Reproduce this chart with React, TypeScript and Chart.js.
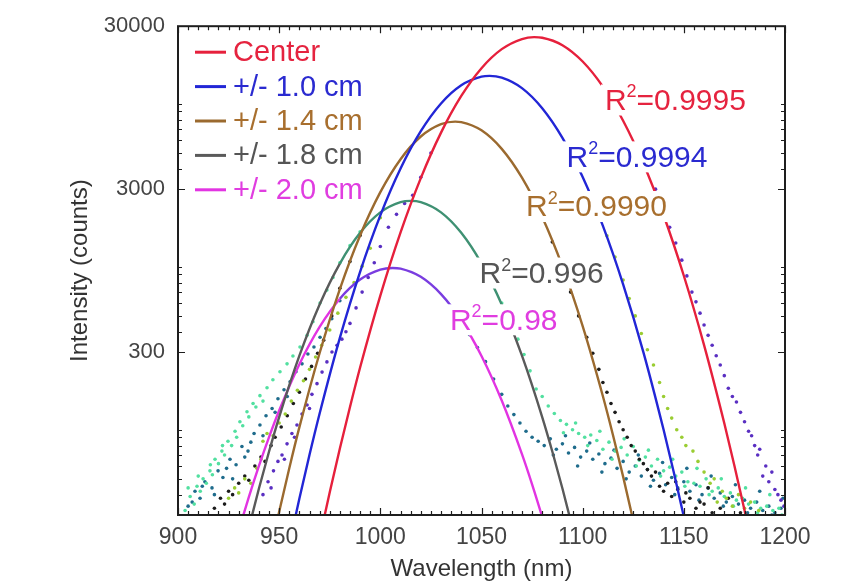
import { useEffect, useRef } from 'react';
import { Chart, registerables } from 'chart.js';

Chart.register(...registerables);

const FONT = '"Liberation Sans", Arial, Helvetica, sans-serif';

// ---------- axis / legend text ----------
const xTickValues = [900, 950, 1000, 1050, 1100, 1150, 1200];
const yTickValues = [300, 3000, 30000];
const yMinorTicks = [40, 50, 60, 70, 80, 90, 100, 400, 500, 600, 700, 800, 900, 1000, 4000, 5000, 6000, 7000, 8000, 9000, 10000];
const seriesLabels = ['Center', '+/- 1.0 cm', '+/- 1.4 cm', '+/- 1.8 cm', '+/- 2.0 cm'];
const r2Values = ['0.9995', '0.9994', '0.9990', '0.996', '0.98'];
const r2AnchorNm = [1111, 1092, 1072, 1049, 1034.4];
const r2AnchorCounts = [10500, 4700, 2330, 910, 470];

// ---------- Gaussian fit curves ----------
const fitCenterNm = [970, 975, 980, 985, 990, 1000, 1010, 1020, 1030, 1040, 1050, 1060, 1070, 1076, 1080, 1090, 1100, 1110, 1120, 1130, 1140, 1150, 1160, 1170, 1175, 1180, 1185];
const fitCenterCounts = [21.6, 41.4, 76.8, 138, 241, 666, 1627, 3504, 6665, 11190, 16580, 21690, 25030, 25700, 25500, 22940, 18210, 12760, 7889, 4306, 2075, 882, 331, 109.6, 60.2, 32.1, 16.5];

const fit10Nm = [955, 960, 965, 970, 980, 990, 1000, 1010, 1020, 1030, 1040, 1050, 1054, 1060, 1070, 1080, 1090, 1100, 1110, 1120, 1130, 1140, 1145, 1150, 1155];
const fit10Counts = [19.7, 37.9, 70.3, 126, 367, 933, 2071, 4016, 6803, 10070, 13020, 14700, 14870, 14500, 12500, 9410, 6189, 3556, 1785, 782, 300, 100, 55.1, 29.3, 15.1];

const fit14Nm = [945, 950, 955, 960, 970, 980, 990, 1000, 1010, 1020, 1030, 1037, 1040, 1050, 1060, 1070, 1080, 1090, 1100, 1110, 1115, 1120, 1125, 1130];
const fit14Counts = [16.4, 31.4, 58.1, 103.8, 296, 731, 1559, 2874, 4581, 6311, 7516, 7790, 7740, 6887, 5300, 3525, 2026, 1007, 433, 160.7, 92.7, 51.6, 27.7, 14.3];

const fit18Nm = [935, 940, 945, 950, 960, 970, 980, 990, 1000, 1010, 1015, 1020, 1030, 1040, 1050, 1060, 1070, 1080, 1085, 1090, 1095];
const fit18Counts = [24.9, 43.6, 73.6, 119.8, 285, 588, 1048, 1617, 2159, 2495, 2540, 2495, 2159, 1617, 1048, 588, 285, 119.8, 73.6, 43.6, 24.9];

const fit20Nm = [930, 935, 940, 945, 950, 960, 970, 980, 990, 1000, 1006, 1010, 1020, 1030, 1040, 1050, 1060, 1070, 1075, 1080, 1085];
const fit20Counts = [24.1, 38.6, 60, 90.2, 131.3, 252.9, 428.3, 637.9, 835.6, 962.5, 985, 975, 868.5, 680.2, 468.8, 284.1, 151.3, 70.9, 46.3, 29.2, 17.9];

// ---------- measured spectra (dots) ----------
const dataCenterNm = [942, 944.5, 946, 947.2, 949.4, 951.4, 952.6, 953.9, 956.3, 957.6, 958.8, 961.3, 963.8, 965, 966.2, 968.7, 971.2, 973.6, 976.1, 978.6, 981, 983, 985, 988, 991, 994, 997, 1000, 1004, 1008, 1012, 1016, 1020, 1025,
  1128, 1132, 1136, 1140, 1143, 1146, 1149, 1151.5, 1154, 1156, 1158, 1160, 1162, 1164, 1166, 1168, 1170, 1172, 1174, 1176, 1178, 1180, 1182, 1183.5, 1185, 1186.5, 1187.5, 1189, 1190.5, 1192, 1193.5, 1195, 1196.5, 1198, 1199.5];
const dataCenterCounts = [40, 48, 44, 56, 64, 70, 66, 82, 95, 90, 107, 125, 142, 135, 165, 192, 226, 261, 300, 330, 360, 400, 450, 560, 700, 860, 1060, 1335, 1750, 2100, 2450, 2750, 3550, 5000,
  4700, 3900, 3000, 2200, 1750, 1400, 1100, 880, 700, 610, 520, 440, 380, 330, 285, 250, 215, 180, 160, 148, 128, 112, 98, 92, 80, 70, 76, 52, 60, 48, 55, 43, 40, 37, 34];

const data10Nm = [925, 928, 930, 933, 936, 939, 941, 942, 944, 947, 950, 953, 956, 959, 962, 965, 968, 971, 975, 979, 983, 987, 991, 995, 1000,
  1108, 1112, 1116, 1120, 1123, 1126, 1129, 1132, 1135, 1138, 1140, 1142, 1144, 1146.5, 1149, 1151, 1154.5, 1157, 1160, 1163, 1165, 1166.5, 1169, 1171, 1174, 1177, 1180, 1183, 1187];
const data10Counts = [38, 44, 41, 50, 47, 58, 66, 85, 95, 92, 110, 125, 150, 175, 200, 235, 280, 330, 410, 520, 650, 800, 1010, 1300, 2000,
  2000, 1550, 1150, 830, 640, 500, 390, 310, 250, 195, 160, 135, 118, 100, 90, 80, 74, 64, 55, 47, 50, 36, 42, 38, 34, 40, 33, 36, 32];

const data14Nm = [918, 921, 923, 925, 927, 930, 933, 935, 938, 941, 943, 946, 948, 951, 954, 957, 960, 963, 966, 969, 972, 976, 980, 985, 990,
  1080, 1085, 1090, 1094, 1098, 1102, 1105, 1108, 1110, 1112, 1114, 1116, 1118, 1120, 1122, 1124, 1126, 1128, 1130, 1132, 1134, 1136, 1138, 1140, 1142, 1144, 1147, 1150, 1153, 1156, 1160, 1164,
  1146, 1151, 1158, 1162, 1168, 1172, 1178];
const data14Counts = [33, 38, 35, 42, 40, 47, 52, 49, 60, 68, 64, 80, 90, 104, 122, 145, 170, 205, 245, 295, 355, 500, 740, 1080, 1560,
  1980, 1420, 980, 700, 500, 370, 295, 235, 195, 170, 145, 128, 112, 100, 90, 80, 74, 66, 62, 57, 52, 55, 45, 42, 47, 39, 43, 36, 38, 33, 35, 31,
  48, 41, 36, 44, 33, 38, 31];

const data18Nm = [903.5, 906, 908, 909.4, 911, 912.4, 914, 915.8, 917, 918.3, 920, 921.7, 923, 924.7, 926.5, 928.2, 930.6, 932, 934.1, 937.1, 938.5, 940.5, 944, 946.9, 950.4, 953.9, 956.8, 960.3, 963.8, 966.7, 970.2, 973.6, 976.6, 980, 985, 990,
  905, 910, 916, 922, 929, 935, 942,
  1055, 1060, 1064, 1068, 1071, 1074, 1077, 1080, 1083, 1086, 1089, 1092, 1095, 1098, 1101, 1104, 1107, 1110, 1113, 1116, 1119, 1122, 1125, 1128, 1131, 1134, 1137, 1140, 1143, 1146, 1149, 1152, 1155, 1158, 1161, 1164, 1167, 1170, 1173, 1176, 1179, 1182, 1185, 1188, 1191, 1194, 1197,
  1090.5, 1096.5, 1102.5, 1108.5, 1114.5, 1120.5, 1126.5, 1132.5, 1138.5, 1144.5, 1150.5, 1156.5, 1162.5, 1168.5, 1174.5, 1180.5, 1186.5, 1192.5, 1198.5];
const data18Counts = [32, 39, 35, 45, 42, 50, 47, 56, 53, 66, 62, 74, 70, 85, 80, 98, 112, 106, 129, 145, 138, 162, 181, 203, 227, 254, 284, 322, 380, 460, 600, 720, 860, 1060, 1350, 1640,
  44, 52, 61, 80, 90, 120, 150,
  820, 600, 460, 360, 290, 230, 178, 160, 140, 126, 114, 108, 100, 95, 90, 93, 86, 76, 84, 74, 78, 70, 79, 65, 68, 60, 66, 56, 59, 52, 55, 48, 47, 45, 50, 42, 44, 39, 41, 37, 38, 35, 36, 33, 34, 32, 33,
  96, 110, 80, 98, 66, 88, 60, 75, 52, 66, 45, 58, 40, 50, 34, 44, 31, 40, 30];

const data20Nm = [905, 908.4, 910.9, 913.3, 916.8, 919.8, 922.2, 925.7, 928.7, 931.6, 934.6, 937.6, 940.5, 943.5, 946.5, 949.4, 952.4, 955.4, 958.3, 961.3, 964.2, 967.2, 970.2, 973.1, 976, 980,
  907, 912, 918, 924, 927, 933, 936, 942, 948, 954,
  1044, 1048, 1052, 1056, 1060, 1063, 1066, 1069, 1072, 1075, 1078, 1081, 1084, 1087, 1090, 1093, 1096, 1099, 1102, 1105, 1108, 1111, 1114, 1117, 1120, 1123, 1126, 1129, 1132, 1135, 1138, 1141, 1144, 1147, 1150, 1153, 1156, 1159, 1162, 1165, 1168, 1171, 1174, 1177, 1180, 1183, 1186, 1189, 1192, 1195, 1198,
  1085.5, 1091.5, 1097.5, 1103.5, 1109.5, 1115.5, 1121.5, 1127.5, 1133.5, 1139.5, 1145.5, 1151.5, 1157.5, 1163.5, 1169.5, 1175.5, 1181.5, 1187.5, 1193.5, 1199];
const data20Counts = [34, 42, 38, 48, 44, 56, 51, 66, 61, 79, 74, 95, 107, 122, 135, 155, 176, 197, 227, 254, 292, 322, 370, 418, 480, 620,
  36, 45, 40, 58, 50, 68, 84, 92, 128, 160,
  384, 320, 262, 205, 165, 140, 124, 110, 98, 90, 85, 80, 88, 76, 82, 72, 78, 68, 74, 66, 71, 62, 67, 58, 64, 55, 60, 52, 57, 49, 54, 46, 51, 44, 48, 42, 46, 40, 44, 38, 41, 36, 39, 35, 37, 33, 36, 32, 34, 31, 33,
  70, 92, 60, 83, 55, 75, 50, 70, 45, 63, 40, 58, 37, 52, 34, 46, 31, 42, 30, 38];

// ---------- styles ----------
const fitColors = ['#e6203c', '#2226d6', '#9b6a2f', '#5a5a5a', '#e234e2'];
const legendTextColors = ['#e5233f', '#2a2ad0', '#a86f2e', '#555555', '#e03de0'];
const dataColors = ['#5a2fc2', '#9acd32', '#1c1c1c', '#52e0a0', '#1f6c8c'];

const zip = (xs: number[], ys: number[]) => xs.map((x, i) => ({ x, y: ys[i] }));

function segColor(lo: number, hi: number, inside: string, outside: string) {
  return (c: any) => {
    const m = (c.p0.parsed.x + c.p1.parsed.x) / 2;
    return m > lo && m < hi ? inside : outside;
  };
}

const overlayPlugin = {
  id: 'overlay',
  afterDatasetsDraw(chart: any) {
    const { ctx, scales } = chart;
    const xs = scales.x;
    const ys = scales.y;
    ctx.save();
    r2Values.forEach((val, i) => {
      const px = xs.getPixelForValue(r2AnchorNm[i]);
      const py = ys.getPixelForValue(r2AnchorCounts[i]);
      const big = `30px ${FONT}`;
      const small = `18px ${FONT}`;
      ctx.font = big;
      const wR = ctx.measureText('R').width;
      const rest = '=' + val;
      const wRest = ctx.measureText(rest).width;
      ctx.font = small;
      const w2 = ctx.measureText('2').width;
      const total = wR + w2 + wRest;
      ctx.fillStyle = '#ffffff';
      ctx.fillRect(px - 4, py - 16, total + 7, 31);
      ctx.fillStyle = legendTextColors[i];
      ctx.textBaseline = 'middle';
      ctx.textAlign = 'left';
      ctx.font = big;
      ctx.fillText('R', px, py + 1);
      ctx.font = small;
      ctx.fillText('2', px + wR, py - 8);
      ctx.font = big;
      ctx.fillText(rest, px + wR + w2, py + 1);
    });
    ctx.restore();
  },
  afterDraw(chart: any) {
    const { ctx, chartArea: a, scales } = chart;
    const xs = scales.x;
    const ys = scales.y;
    ctx.save();
    ctx.strokeStyle = '#1e1e1e';
    ctx.lineWidth = 1.2;
    ctx.beginPath();
    for (let v = 900; v <= 1200; v += 5) {
      const px = Math.round(xs.getPixelForValue(v)) + 0.5;
      const len = xTickValues.includes(v) ? 7 : 4;
      ctx.moveTo(px, a.bottom);
      ctx.lineTo(px, a.bottom - len);
      ctx.moveTo(px, a.top);
      ctx.lineTo(px, a.top + len);
    }
    const yAll = [...yTickValues.map((v) => [v, 7]), ...yMinorTicks.map((v) => [v, 4])];
    yAll.forEach(([v, len]) => {
      const py = Math.round(ys.getPixelForValue(v)) + 0.5;
      ctx.moveTo(a.left, py);
      ctx.lineTo(a.left + len, py);
      ctx.moveTo(a.right, py);
      ctx.lineTo(a.right - len, py);
    });
    ctx.stroke();
    ctx.lineWidth = 2;
    ctx.strokeRect(a.left, a.top, a.right - a.left, a.bottom - a.top);

    // legend
    ctx.font = `29px ${FONT}`;
    ctx.textBaseline = 'middle';
    ctx.textAlign = 'left';
    seriesLabels.forEach((lab, i) => {
      const yy = a.top + 26 + i * 34.4;
      ctx.strokeStyle = fitColors[i];
      ctx.lineWidth = 3;
      ctx.beginPath();
      ctx.moveTo(a.left + 17, yy);
      ctx.lineTo(a.left + 48, yy);
      ctx.stroke();
      ctx.fillStyle = legendTextColors[i];
      ctx.fillText(lab, a.left + 55, yy + 1);
    });
    ctx.restore();
  },
};

export default function App() {
  const ref = useRef<HTMLCanvasElement>(null);
  useEffect(() => {
    const canvas = ref.current;
    if (!canvas) return;
    const fits = [
      zip(fitCenterNm, fitCenterCounts),
      zip(fit10Nm, fit10Counts),
      zip(fit14Nm, fit14Counts),
      zip(fit18Nm, fit18Counts),
      zip(fit20Nm, fit20Counts),
    ];
    const datas = [
      zip(dataCenterNm, dataCenterCounts),
      zip(data10Nm, data10Counts),
      zip(data14Nm, data14Counts),
      zip(data18Nm, data18Counts),
      zip(data20Nm, data20Counts),
    ];
    const fitSets = fits.map((d, i) => {
      const ds: any = {
        label: seriesLabels[i] + ' fit',
        data: d,
        showLine: true,
        pointRadius: 0,
        borderColor: fitColors[i],
        borderWidth: 2.4,
        cubicInterpolationMode: 'monotone',
        clip: 0,
      };
      if (i === 3) ds.segment = { borderColor: segColor(983, 1064, '#3f9173', fitColors[3]) };
      if (i === 4) ds.segment = { borderColor: segColor(980, 1037, '#7a3de0', fitColors[4]) };
      return ds;
    });
    const dataSets = datas.map((d, i) => ({
      label: seriesLabels[i],
      data: d,
      showLine: false,
      pointRadius: 1.8,
      pointBorderWidth: 0,
      pointBackgroundColor: dataColors[i],
      borderColor: dataColors[i],
      clip: 0,
    }));
    const chart = new Chart(canvas, {
      type: 'scatter',
      data: { datasets: [...fitSets, ...dataSets] as any },
      options: {
        animation: false,
        responsive: false,
        maintainAspectRatio: false,
        devicePixelRatio: 1,
        events: [],
        layout: { padding: { left: 0, right: 66, top: 22, bottom: 0 } },
        plugins: { legend: { display: false }, tooltip: { enabled: false } },
        scales: {
          x: {
            type: 'linear',
            min: 900,
            max: 1200,
            afterBuildTicks: (s: any) => {
              s.ticks = xTickValues.map((v) => ({ value: v }));
            },
            afterFit: (s: any) => {
              s.height = 73;
            },
            grid: { display: false, drawTicks: false },
            border: { display: false },
            ticks: { color: '#444', font: { size: 23, family: FONT }, padding: 9, maxRotation: 0, autoSkip: false, callback: (v: any) => String(v) },
            title: { display: true, text: 'Wavelength (nm)', color: '#333', font: { size: 24, family: FONT }, padding: { top: 0, bottom: 4 } },
          },
          y: {
            type: 'logarithmic',
            min: 30,
            max: 30000,
            afterBuildTicks: (s: any) => {
              s.ticks = yTickValues.map((v) => ({ value: v }));
            },
            afterFit: (s: any) => {
              s.width = 178;
            },
            grid: { display: false, drawTicks: false },
            border: { display: false },
            ticks: { color: '#444', font: { size: 22, family: FONT }, padding: 13, autoSkip: false, callback: (v: any) => String(v) },
            title: { display: true, text: 'Intensity (counts)', color: '#333', font: { size: 24, family: FONT }, padding: { top: 66, bottom: 0 } },
          },
        },
      } as any,
      plugins: [overlayPlugin],
    });
    return () => chart.destroy();
  }, []);
  return (
    <div style={{ position: 'absolute', left: 0, top: 0, width: 851, height: 588, background: '#fff' }}>
      <canvas ref={ref} width={851} height={588} style={{ display: 'block', width: 851, height: 588 }} />
    </div>
  );
}
